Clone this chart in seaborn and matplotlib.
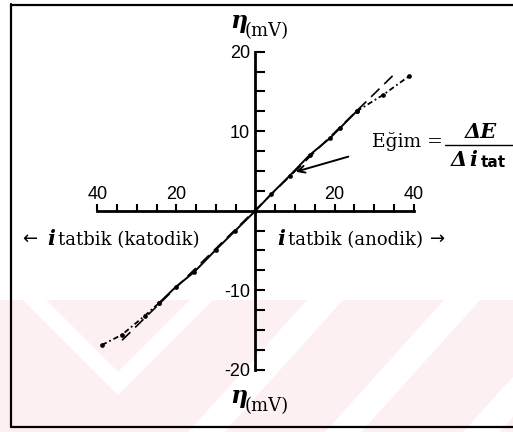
import matplotlib
matplotlib.use("Agg")
import matplotlib.pyplot as plt
from matplotlib.lines import Line2D
from matplotlib.patches import Polygon
from matplotlib.ticker import FixedLocator
import pandas as pd
import seaborn as sns

# Polarization curve: applied current (cathodic < 0 < anodic) vs overpotential (mV)
i_middle = [-24.4, -20.2, -15.5, -10.0, -5.3, 0.0, 4.0, 8.65, 13.7, 18.8, 21.4, 25.6]
eta_middle = [-11.6, -9.6, -7.7, -4.9, -2.6, 0.0, 2.1, 4.4, 7.0, 9.1, 10.4, 12.5]
i_cathodic_tail = [-38.9, -33.8, -28.0, -24.4]
eta_cathodic_tail = [-16.9, -15.6, -13.2, -11.6]
i_anodic_tail = [25.6, 32.4, 38.8]
eta_anodic_tail = [12.5, 14.6, 16.9]

# Straight line through the origin (linear polarization slope)
i_slope = [-33.8, 35.4]
eta_slope = [-16.3, 17.3]

x_major = [-40, -20, 20, 40]
x_major_labels = ["40", "20", "20", "40"]
x_minor = [-35, -30, -25, -15, -10, -5, 5, 10, 15, 25, 30, 35]
y_major = [-20, -10, 10, 20]
y_major_labels = ["-20", "-10", "10", "20"]
y_minor = [-17.5, -15, -12.5, -7.5, -5, -2.5, 2.5, 5, 7.5, 12.5, 15, 17.5]

sns.set_style("white")
plt.rcParams["font.family"] = ["DejaVu Serif", "DejaVu Sans"]
plt.rcParams["text.color"] = "black"

W, H = 513, 432
fig = plt.figure(figsize=(W / 100, H / 100), dpi=100)
fig.patch.set_facecolor("white")


def fx(px):
    return px / W


def fy(py):
    return 1 - py / H


# faint background band with diagonal stripes
pink = "#fdf0f2"
fig.patches.append(Polygon([(fx(0), fy(300)), (fx(W), fy(300)), (fx(W), fy(H)), (fx(0), fy(H))],
                           closed=True, transform=fig.transFigure, facecolor=pink,
                           edgecolor="none", zorder=-3))
fig.patches.append(Polygon([(fx(23), fy(300)), (fx(118), fy(395)), (fx(213), fy(300)),
                            (fx(190), fy(300)), (fx(118), fy(372)), (fx(46), fy(300))],
                           closed=True, transform=fig.transFigure, facecolor="white",
                           edgecolor="none", zorder=-2))
for c in (325, 462, 600):
    d = 0.9 * (H - 300)
    fig.patches.append(Polygon([(fx(c - 18), fy(300)), (fx(c + 18), fy(300)),
                                (fx(c + 18 - d), fy(H)), (fx(c - 18 - d), fy(H))],
                               closed=True, transform=fig.transFigure, facecolor="white",
                               edgecolor="none", zorder=-2))

# outer frame (left, top, bottom)
for xs, ys in [((11, 11), (4, 427)), ((11, W), (4.5, 4.5)), ((11, W), (427, 427))]:
    fig.add_artist(Line2D([fx(v) for v in xs], [fy(v) for v in ys],
                          transform=fig.transFigure, color="black", lw=1.6))

ax = fig.add_axes([0, 0, 1, 1])
ax.patch.set_alpha(0)

X0, SX = 255.5, 3.95
Y0, SY = 210.7, 7.95
ax.set_xlim(-X0 / SX, (W - X0) / SX)
ax.set_ylim((Y0 - H) / SY, Y0 / SY)

df_mid = pd.DataFrame({"i": i_middle, "eta": eta_middle})
df_cat = pd.DataFrame({"i": i_cathodic_tail, "eta": eta_cathodic_tail})
df_ano = pd.DataFrame({"i": i_anodic_tail, "eta": eta_anodic_tail})
df_lin = pd.DataFrame({"i": i_slope, "eta": eta_slope})

sns.lineplot(data=df_lin, x="i", y="eta", ax=ax, color="black", lw=1.2,
             estimator=None, sort=False, linestyle=(0, (7, 4)))
sns.lineplot(data=df_mid, x="i", y="eta", ax=ax, color="black", lw=1.4,
             estimator=None, sort=False, marker="o", markersize=3.4,
             markeredgewidth=0)
for d in (df_cat, df_ano):
    sns.lineplot(data=d, x="i", y="eta", ax=ax, color="black", lw=1.3,
                 estimator=None, sort=False, linestyle=(0, (3, 1.6, 1, 1.6)),
                 marker="o", markersize=3.4, markeredgewidth=0)

# slope annotation arrow
ax.annotate("", xy=(10.2, 4.9), xytext=(23.5, 6.8),
            arrowprops=dict(arrowstyle="->,head_length=0.5,head_width=0.25",
                            lw=1.4, color="black", shrinkA=0, shrinkB=0))

# axes crossing at the origin
for s in ("right", "bottom"):
    ax.spines[s].set_visible(False)
ax.spines["left"].set_position(("data", 0))
ax.spines["left"].set_bounds(-20, 20)
ax.spines["top"].set_position(("data", 0))
ax.spines["top"].set_bounds(-40, 40)
for s in ("left", "top"):
    ax.spines[s].set_linewidth(2.0)
    ax.spines[s].set_color("black")

ax.xaxis.set_ticks_position("top")
ax.yaxis.set_ticks_position("left")
ax.xaxis.set_major_locator(FixedLocator(x_major))
ax.xaxis.set_minor_locator(FixedLocator(x_minor))
ax.yaxis.set_major_locator(FixedLocator(y_major))
ax.yaxis.set_minor_locator(FixedLocator(y_minor))
ax.set_xticklabels(x_major_labels)
ax.set_yticklabels(y_major_labels)
ax.tick_params(axis="x", which="both", direction="out", length=5, width=1.5,
               color="black", pad=0.5, labelsize=13, labelcolor="black")
ax.tick_params(axis="y", which="both", direction="in", length=7, width=1.5,
               color="black", pad=4, labelsize=13, labelcolor="black")
for lab in ax.get_xticklabels() + ax.get_yticklabels():
    lab.set_family("Liberation Sans")
ax.set_xlabel("")
ax.set_ylabel("")

# axis titles
serif = ["DejaVu Serif", "DejaVu Sans"]
for yy in (21, 396):
    fig.text(fx(239), fy(yy), "η", family=serif, style="italic", weight="bold",
             fontsize=17, ha="center", va="center")
    fig.text(fx(245), fy(yy + 10), "(mV)", family=serif, fontsize=13,
             ha="left", va="center")

fig.text(fx(22), fy(239), "←", family=["DejaVu Sans"], fontsize=13,
         ha="left", va="center")
fig.text(fx(47), fy(245), "i", family=serif, style="italic", weight="bold",
         fontsize=15, ha="left", va="baseline")
fig.text(fx(58), fy(245), "tatbik (katodik)", family=serif, fontsize=13,
         ha="left", va="baseline")

fig.text(fx(277), fy(245), "i", family=serif, style="italic", weight="bold",
         fontsize=15, ha="left", va="baseline")
fig.text(fx(288), fy(245), "tatbik (anodik)", family=serif, fontsize=13,
         ha="left", va="baseline")
fig.text(fx(430), fy(239), "→", family=["DejaVu Sans"], fontsize=13,
         ha="left", va="center")

# slope formula
fig.text(fx(372), fy(147), "Eğim =", family=serif, fontsize=13.5,
         ha="left", va="baseline")
fig.add_artist(Line2D([fx(445), fx(W)], [fy(145), fy(145)],
                      transform=fig.transFigure, color="black", lw=1.0))
fig.text(fx(481), fy(138), "ΔE", family=serif, style="italic", weight="bold",
         fontsize=15, ha="center", va="baseline")
fig.text(fx(451), fy(166), "Δ", family=serif, style="italic", weight="bold",
         fontsize=15, ha="left", va="baseline")
fig.text(fx(469), fy(166), "i", family=serif, style="italic", weight="bold",
         fontsize=15, ha="left", va="baseline")
fig.text(fx(481), fy(167), "tat", family=["DejaVu Sans"], weight="bold",
         fontsize=11, ha="left", va="baseline")

fig.savefig("out.png", dpi=100)
